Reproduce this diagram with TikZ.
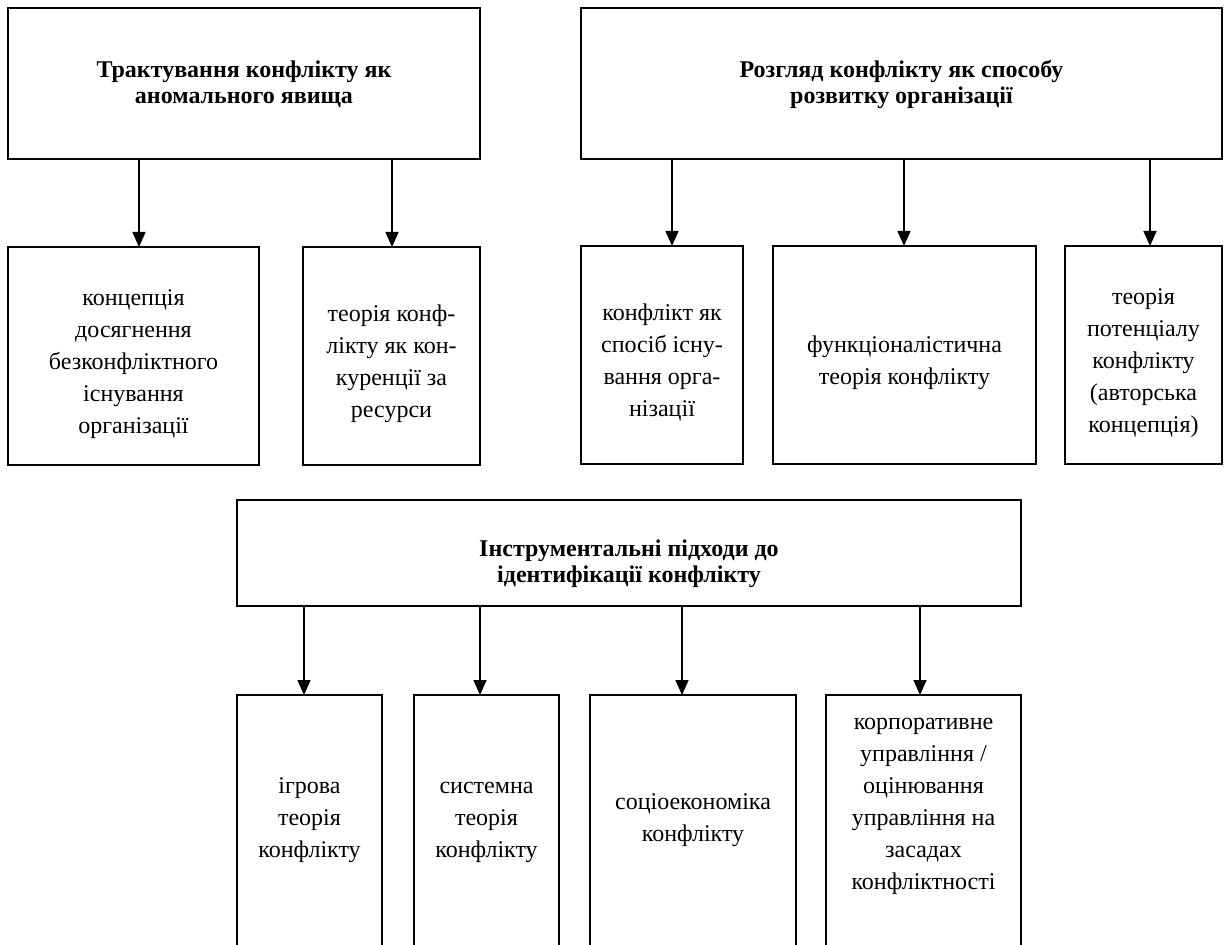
\documentclass[tikz,border=0pt]{standalone}
\usepackage{fontspec}
\setmainfont{Liberation Serif}
\usetikzlibrary{arrows.meta}
\newdimen\u
\u=0.75pt
% struts that fix the height of the first line and the depth of the last line
\newcommand{\tst}[1]{\rule{0pt}{#1}}
\newcommand{\bst}[1]{\rule[-#1]{0pt}{0pt}}
\tikzset{
  bodytext/.style={font=\fontsize{18pt}{24pt}\selectfont, align=center},
  headtext/.style={font=\fontsize{18pt}{19.5pt}\selectfont\bfseries, align=center},
  box/.style={rectangle, draw, inner sep=0pt, outer sep=0pt},
  thickbox/.style={box, line width=2pt},
  midbox/.style={box, line width=1.5pt},
  openbox/.style={rectangle, inner sep=0pt, outer sep=0pt},
  openline/.style={line width=1.5pt},
  arr/.style={line width=1.2pt, -{Triangle[width=9.75pt,length=11.25pt]}}
}
\begin{document}
\begin{tikzpicture}[x=0.75pt, y=-0.75pt]
\useasboundingbox (0,0) rectangle (1225,945);
\clip (0,0) rectangle (1225,945);
\fill[white] (0,0) rectangle (1225,945);

% top headers
\node[thickbox, headtext, minimum width=472\u, minimum height=151\u] (T1) at (244,83.5)
  {\tst{15pt}Трактування конфлікту як\\аномального явища\bst{5pt}};
\node[midbox, headtext, minimum width=641\u, minimum height=151\u] (T2) at (901.5,83.5)
  {\tst{15pt}Розгляд конфлікту як способу\\розвитку організації\bst{5pt}};

% second row, left group
\node[thickbox, bodytext, minimum width=251\u, minimum height=218\u] (A) at (133.5,356)
  {\tst{24.5pt}концепція\\досягнення\\безконфліктного\\існування\\організації\bst{5pt}};
\node[thickbox, bodytext, minimum width=177\u, minimum height=218\u] (B) at (391.5,356)
  {\tst{24.5pt}теорія конф-\\лікту як кон-\\куренції за\\ресурси\bst{5pt}};

% second row, right group
\node[midbox, bodytext, minimum width=162\u, minimum height=218\u] (C) at (662,355)
  {\tst{24.5pt}конфлікт як\\спосіб існу-\\вання орга-\\нізації\bst{5pt}};
\node[midbox, bodytext, minimum width=263\u, minimum height=218\u] (D) at (904.5,355)
  {\tst{24.5pt}функціоналістична\\теорія конфлікту\bst{5pt}};
\node[midbox, bodytext, minimum width=157\u, minimum height=218\u] (E) at (1143.5,355)
  {\tst{24.5pt}теорія\\потенціалу\\конфлікту\\(авторська\\концепція)\bst{5pt}};

% third header
\node[midbox, headtext, minimum width=784\u, minimum height=106\u] (T3) at (629,553)
  {\tst{29pt}Інструментальні підходи до\\ідентифікації конфлікту\bst{5pt}};

% bottom row (open at the bottom)
\node[openbox, bodytext, minimum width=145\u, minimum height=234\u] (b1) at (309.5,812)
  {\tst{24.5pt}ігрова\\теорія\\конфлікту\bst{5pt}};
\node[openbox, bodytext, minimum width=145\u, minimum height=234\u] (b2) at (486.5,812)
  {\tst{24.5pt}системна\\теорія\\конфлікту\bst{5pt}};
\node[openbox, bodytext, minimum width=206\u, minimum height=234\u] (b3) at (693,812)
  {\tst{24.5pt}соціоекономіка\\конфлікту\bst{5pt}};
\node[openbox, bodytext, minimum width=195\u, minimum height=202\u] (b4) at (923.5,796)
  {\tst{24.5pt}корпоративне\\управління /\\оцінювання\\управління на\\засадах\\конфліктності\bst{5pt}};

\foreach \b in {b1,b2,b3,b4}{
  \draw[openline] (\b.north west) ++(0,320) -- (\b.north west) -- (\b.north east) -- ++(0,320);
}

% arrow x positions
\coordinate (x1) at (139,0);
\coordinate (x2) at (392,0);
\coordinate (x3) at (672,0);
\coordinate (x4) at (904,0);
\coordinate (x5) at (1150,0);
\coordinate (x6) at (304,0);
\coordinate (x7) at (480,0);
\coordinate (x8) at (682,0);
\coordinate (x9) at (920,0);

\draw[arr] (T1.south -| x1) -- (A.north -| x1);
\draw[arr] (T1.south -| x2) -- (B.north -| x2);
\draw[arr] (T2.south -| x3) -- (C.north -| x3);
\draw[arr] (T2.south -| x4) -- (D.north -| x4);
\draw[arr] (T2.south -| x5) -- (E.north -| x5);
\draw[arr] (T3.south -| x6) -- (b1.north -| x6);
\draw[arr] (T3.south -| x7) -- (b2.north -| x7);
\draw[arr] (T3.south -| x8) -- (b3.north -| x8);
\draw[arr] (T3.south -| x9) -- (b4.north -| x9);
\end{tikzpicture}
\end{document}
